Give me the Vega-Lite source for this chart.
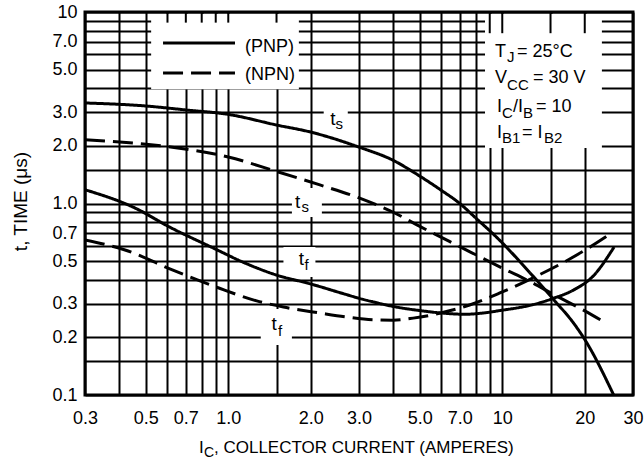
{
  "$schema": "https://vega.github.io/schema/vega-lite/v6.json",
  "width": 548,
  "height": 383,
  "autosize": {"type": "none"},
  "padding": {"left": 85, "top": 12, "right": 11, "bottom": 67},
  "background": "white",
  "config": {
    "font": "Liberation Sans, Arial, sans-serif",
    "view": {"stroke": "black", "strokeWidth": 3},
    "axis": {
      "grid": true, "gridColor": "black", "gridWidth": 2, "gridOpacity": 1,
      "domain": false, "ticks": false, "tickSize": 0,
      "labelColor": "black", "labelFontSize": 18, "labelOverlap": false, "labelFlush": false
    }
  },
  "datasets": {
    "curves": [
      {"I": 0.3, "t": 3.35, "type": "PNP", "series": "PNP ts"},
      {"I": 0.5, "t": 3.23, "type": "PNP", "series": "PNP ts"},
      {"I": 0.7, "t": 3.08, "type": "PNP", "series": "PNP ts"},
      {"I": 1.0, "t": 2.92, "type": "PNP", "series": "PNP ts"},
      {"I": 1.5, "t": 2.57, "type": "PNP", "series": "PNP ts"},
      {"I": 2.0, "t": 2.36, "type": "PNP", "series": "PNP ts"},
      {"I": 3.0, "t": 1.97, "type": "PNP", "series": "PNP ts"},
      {"I": 4.0, "t": 1.68, "type": "PNP", "series": "PNP ts"},
      {"I": 5.0, "t": 1.39, "type": "PNP", "series": "PNP ts"},
      {"I": 6.0, "t": 1.17, "type": "PNP", "series": "PNP ts"},
      {"I": 7.0, "t": 1.0, "type": "PNP", "series": "PNP ts"},
      {"I": 8.0, "t": 0.84, "type": "PNP", "series": "PNP ts"},
      {"I": 9.5, "t": 0.67, "type": "PNP", "series": "PNP ts"},
      {"I": 12.9, "t": 0.42, "type": "PNP", "series": "PNP ts"},
      {"I": 15.4, "t": 0.315, "type": "PNP", "series": "PNP ts"},
      {"I": 18.3, "t": 0.235, "type": "PNP", "series": "PNP ts"},
      {"I": 20.0, "t": 0.195, "type": "PNP", "series": "PNP ts"},
      {"I": 25.5, "t": 0.1, "type": "PNP", "series": "PNP ts"},

      {"I": 0.3, "t": 2.15, "type": "NPN", "series": "NPN ts"},
      {"I": 0.6, "t": 1.98, "type": "NPN", "series": "NPN ts"},
      {"I": 1.0, "t": 1.75, "type": "NPN", "series": "NPN ts"},
      {"I": 1.5, "t": 1.47, "type": "NPN", "series": "NPN ts"},
      {"I": 2.16, "t": 1.25, "type": "NPN", "series": "NPN ts"},
      {"I": 3.0, "t": 1.07, "type": "NPN", "series": "NPN ts"},
      {"I": 4.0, "t": 0.90, "type": "NPN", "series": "NPN ts"},
      {"I": 5.0, "t": 0.76, "type": "NPN", "series": "NPN ts"},
      {"I": 7.0, "t": 0.595, "type": "NPN", "series": "NPN ts"},
      {"I": 10.0, "t": 0.46, "type": "NPN", "series": "NPN ts"},
      {"I": 12.9, "t": 0.385, "type": "NPN", "series": "NPN ts"},
      {"I": 15.4, "t": 0.335, "type": "NPN", "series": "NPN ts"},
      {"I": 20.0, "t": 0.275, "type": "NPN", "series": "NPN ts"},
      {"I": 23.6, "t": 0.24, "type": "NPN", "series": "NPN ts"},

      {"I": 0.3, "t": 1.18, "type": "PNP", "series": "PNP tf"},
      {"I": 0.457, "t": 0.947, "type": "PNP", "series": "PNP tf"},
      {"I": 0.61, "t": 0.754, "type": "PNP", "series": "PNP tf"},
      {"I": 0.88, "t": 0.586, "type": "PNP", "series": "PNP tf"},
      {"I": 1.15, "t": 0.489, "type": "PNP", "series": "PNP tf"},
      {"I": 1.5, "t": 0.423, "type": "PNP", "series": "PNP tf"},
      {"I": 2.0, "t": 0.38, "type": "PNP", "series": "PNP tf"},
      {"I": 2.67, "t": 0.336, "type": "PNP", "series": "PNP tf"},
      {"I": 3.0, "t": 0.32, "type": "PNP", "series": "PNP tf"},
      {"I": 3.42, "t": 0.305, "type": "PNP", "series": "PNP tf"},
      {"I": 4.0, "t": 0.29, "type": "PNP", "series": "PNP tf"},
      {"I": 5.0, "t": 0.276, "type": "PNP", "series": "PNP tf"},
      {"I": 6.0, "t": 0.268, "type": "PNP", "series": "PNP tf"},
      {"I": 7.3, "t": 0.264, "type": "PNP", "series": "PNP tf"},
      {"I": 8.5, "t": 0.268, "type": "PNP", "series": "PNP tf"},
      {"I": 9.8, "t": 0.276, "type": "PNP", "series": "PNP tf"},
      {"I": 12.9, "t": 0.296, "type": "PNP", "series": "PNP tf"},
      {"I": 15.4, "t": 0.32, "type": "PNP", "series": "PNP tf"},
      {"I": 18.3, "t": 0.355, "type": "PNP", "series": "PNP tf"},
      {"I": 21.3, "t": 0.413, "type": "PNP", "series": "PNP tf"},
      {"I": 25.6, "t": 0.593, "type": "PNP", "series": "PNP tf"},

      {"I": 0.3, "t": 0.645, "type": "NPN", "series": "NPN tf"},
      {"I": 0.42, "t": 0.572, "type": "NPN", "series": "NPN tf"},
      {"I": 0.625, "t": 0.45, "type": "NPN", "series": "NPN tf"},
      {"I": 0.924, "t": 0.362, "type": "NPN", "series": "NPN tf"},
      {"I": 1.27, "t": 0.31, "type": "NPN", "series": "NPN tf"},
      {"I": 1.59, "t": 0.288, "type": "NPN", "series": "NPN tf"},
      {"I": 2.16, "t": 0.268, "type": "NPN", "series": "NPN tf"},
      {"I": 2.67, "t": 0.256, "type": "NPN", "series": "NPN tf"},
      {"I": 3.42, "t": 0.247, "type": "NPN", "series": "NPN tf"},
      {"I": 4.0, "t": 0.246, "type": "NPN", "series": "NPN tf"},
      {"I": 4.73, "t": 0.252, "type": "NPN", "series": "NPN tf"},
      {"I": 5.96, "t": 0.268, "type": "NPN", "series": "NPN tf"},
      {"I": 7.6, "t": 0.295, "type": "NPN", "series": "NPN tf"},
      {"I": 9.8, "t": 0.341, "type": "NPN", "series": "NPN tf"},
      {"I": 12.9, "t": 0.408, "type": "NPN", "series": "NPN tf"},
      {"I": 17.5, "t": 0.51, "type": "NPN", "series": "NPN tf"},
      {"I": 20.0, "t": 0.57, "type": "NPN", "series": "NPN tf"},
      {"I": 25.0, "t": 0.70, "type": "NPN", "series": "NPN tf"}
    ],
    "boxes": [
      {"I": 0.523, "I2": 1.81, "t": 9.75, "t2": 3.95},
      {"I": 8.65, "I2": 23.1, "t": 9.75, "t2": 1.95},
      {"I": 2.23, "I2": 2.73, "t": 3.1, "t2": 2.42},
      {"I": 1.707, "I2": 2.196, "t": 1.205, "t2": 0.85},
      {"I": 1.59, "I2": 2.08, "t": 0.593, "t2": 0.413},
      {"I": 1.314, "I2": 1.707, "t": 0.281, "t2": 0.1824}
    ],
    "stubs": [
      {"I": 0.6, "t": 10, "t2": 8.8},
      {"I": 0.7, "t": 10, "t2": 8.8},
      {"I": 0.8, "t": 10, "t2": 8.8},
      {"I": 0.9, "t": 10, "t2": 8.8},
      {"I": 1.0, "t": 10, "t2": 8.8},
      {"I": 1.5, "t": 10, "t2": 8.8},
      {"I": 9, "t": 10, "t2": 7.75},
      {"I": 10, "t": 10, "t2": 7.75},
      {"I": 15, "t": 10, "t2": 7.75},
      {"I": 20, "t": 10, "t2": 7.75}
    ],
    "legendLines": [
      {"I": 0.578, "I2": 1.058, "t": 6.89, "type": "PNP"},
      {"I": 0.578, "I2": 1.058, "t": 4.80, "type": "NPN"}
    ],
    "mainText": [
      {"I": 1.151, "t": 6.18, "label": "(PNP)"},
      {"I": 1.151, "t": 4.41, "label": "(NPN)"},
      {"I": 9.41, "t": 5.82, "label": "T"},
      {"I": 11.32, "t": 5.82, "label": "= 25°C"},
      {"I": 9.41, "t": 4.26, "label": "V"},
      {"I": 12.94, "t": 4.26, "label": "= 30 V"},
      {"I": 9.57, "t": 3.0, "label": "I"},
      {"I": 10.94, "t": 3.0, "label": "/I"},
      {"I": 13.28, "t": 3.0, "label": "= 10"},
      {"I": 9.57, "t": 2.2, "label": "I"},
      {"I": 11.8, "t": 2.2, "label": "= I"}
    ],
    "subText": [
      {"I": 10.41, "t": 5.48, "label": "J"},
      {"I": 10.41, "t": 3.91, "label": "CC"},
      {"I": 9.98, "t": 2.80, "label": "C"},
      {"I": 11.9, "t": 2.80, "label": "B"},
      {"I": 9.98, "t": 2.07, "label": "B1"},
      {"I": 14.2, "t": 2.07, "label": "B2"}
    ],
    "titleText": [
      {"I": 0.782, "t": 0.0498, "label": "I"},
      {"I": 0.887, "t": 0.0498, "label": ", COLLECTOR CURRENT (AMPERES)"}
    ],
    "titleSub": [
      {"I": 0.816, "t": 0.0474, "label": "C"}
    ],
    "curveLabel": [
      {"I": 2.41, "t": 2.57, "label": "t"},
      {"I": 1.79, "t": 0.947, "label": "t"},
      {"I": 1.85, "t": 0.477, "label": "t"},
      {"I": 1.47, "t": 0.2185, "label": "t"}
    ],
    "curveSub": [
      {"I": 2.54, "t": 2.45, "label": "s"},
      {"I": 1.91, "t": 0.903, "label": "s"},
      {"I": 1.93, "t": 0.45, "label": "f"},
      {"I": 1.545, "t": 0.203, "label": "f"}
    ]
  },
  "encoding": {
    "x": {
      "field": "I", "type": "quantitative",
      "scale": {"type": "log", "domain": [0.3, 30], "nice": false},
      "axis": {
        "title": null,
        "values": [0.3, 0.4, 0.5, 0.6, 0.7, 0.8, 0.9, 1, 1.5, 2, 3, 4, 5, 6, 7, 8, 9, 10, 15, 20, 30],
        "labelExpr": "indexof([0.3, 0.5, 0.7, 1, 2, 3, 5, 7, 10, 20, 30], datum.value) >= 0 ? (datum.value >= 10 ? format(datum.value, 'd') : format(datum.value, '.1f')) : ''",
        "labelBaseline": "alphabetic",
        "labelPadding": 28
      }
    },
    "y": {
      "field": "t", "type": "quantitative",
      "scale": {"type": "log", "domain": [0.1, 10], "nice": false},
      "axis": {
        "values": [0.1, 0.15, 0.2, 0.3, 0.4, 0.5, 0.6, 0.7, 0.8, 0.9, 1, 1.5, 2, 3, 4, 5, 6, 7, 8, 9, 10],
        "labelExpr": "indexof([0.1, 0.2, 0.3, 0.5, 0.7, 1, 2, 3, 5, 7, 10], datum.value) >= 0 ? (datum.value >= 10 ? format(datum.value, 'd') : format(datum.value, '.1f')) : ''",
        "labelPadding": 8,
        "title": "t, TIME (μs)",
        "titleFontSize": 19,
        "titleFontWeight": "normal",
        "titleColor": "black",
        "titleAngle": 270,
        "titleAlign": "center",
        "titleBaseline": "alphabetic",
        "titleX": -59,
        "titleY": 189
      }
    }
  },
  "layer": [
    {
      "data": {"name": "boxes"},
      "mark": {"type": "rect", "fill": "white", "strokeWidth": 0},
      "encoding": {"x2": {"field": "I2"}, "y2": {"field": "t2"}}
    },
    {
      "data": {"name": "stubs"},
      "mark": {"type": "rule", "color": "black", "strokeWidth": 2},
      "encoding": {"y2": {"field": "t2"}}
    },
    {
      "data": {"name": "curves"},
      "mark": {"type": "line", "color": "black", "strokeWidth": 3, "interpolate": "monotone", "strokeCap": "butt", "clip": true},
      "encoding": {
        "detail": {"field": "series"},
        "strokeDash": {"field": "type", "type": "nominal", "scale": {"domain": ["PNP", "NPN"], "range": [[1, 0], [20, 8]]}, "legend": null}
      }
    },
    {
      "data": {"name": "legendLines"},
      "mark": {"type": "rule", "color": "black", "strokeWidth": 3, "strokeCap": "butt"},
      "encoding": {
        "x2": {"field": "I2"},
        "strokeDash": {"field": "type", "type": "nominal", "legend": null}
      }
    },
    {
      "data": {"name": "mainText"},
      "mark": {"type": "text", "fontSize": 18, "align": "left", "baseline": "alphabetic", "color": "black"},
      "encoding": {"text": {"field": "label"}}
    },
    {
      "data": {"name": "subText"},
      "mark": {"type": "text", "fontSize": 15, "align": "left", "baseline": "alphabetic", "color": "black"},
      "encoding": {"text": {"field": "label"}}
    },
    {
      "data": {"name": "titleText"},
      "mark": {"type": "text", "fontSize": 17, "align": "left", "baseline": "alphabetic", "color": "black"},
      "encoding": {"text": {"field": "label"}}
    },
    {
      "data": {"name": "titleSub"},
      "mark": {"type": "text", "fontSize": 14, "align": "left", "baseline": "alphabetic", "color": "black"},
      "encoding": {"text": {"field": "label"}}
    },
    {
      "data": {"name": "curveLabel"},
      "mark": {"type": "text", "fontSize": 19, "align": "center", "baseline": "alphabetic", "color": "black"},
      "encoding": {"text": {"field": "label"}}
    },
    {
      "data": {"name": "curveSub"},
      "mark": {"type": "text", "fontSize": 15, "align": "center", "baseline": "alphabetic", "color": "black"},
      "encoding": {"text": {"field": "label"}}
    }
  ]
}
